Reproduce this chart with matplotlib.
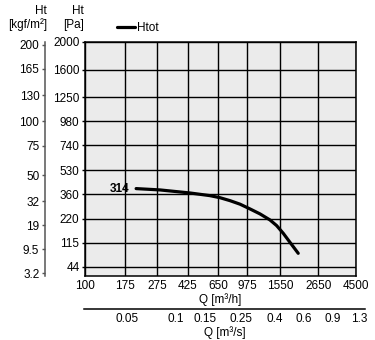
import numpy as np
import matplotlib.pyplot as plt
from matplotlib.ticker import NullLocator

plt.rcParams['font.family'] = ['Liberation Sans', 'DejaVu Sans']
plt.rcParams['font.size'] = 8.5

# fan curve: total pressure against air flow
q_m3h = [205, 287, 437, 578, 666, 766, 882, 1014, 1167, 1343, 1475, 1619, 1778, 1998]
htot_pa = [396, 387, 367, 350, 337, 319, 298, 271, 244, 213, 186, 152, 117, 80]
model = '314'

q_ticks = [100, 175, 275, 425, 650, 975, 1550, 2650, 4500]
qs_ticks = [0.05, 0.1, 0.15, 0.25, 0.4, 0.6, 0.9, 1.3]
pa_ticks = [44, 115, 220, 360, 530, 740, 980, 1250, 1600, 2000]
kgf_ticks = [3.2, 9.5, 19, 32, 50, 75, 100, 130, 165, 200]

PA_PER_KGF = 9.81
P_MIN, P_MAX = 26, 2000

fig = plt.figure(figsize=(3.75, 3.4), dpi=100)
ax = fig.add_axes([0.2267, 0.1882, 0.7227, 0.6883])
ax.set_facecolor('#ebebeb')
ax.set_xscale('log')
ax.set_yscale('function', functions=(np.sqrt, np.square))
ax.set_xlim(100, 4500)
ax.set_ylim(P_MIN, P_MAX)

ax.plot(q_m3h, htot_pa, color='black', lw=2.3, solid_capstyle='round', label='Htot')
ax.annotate(model, (q_m3h[0], htot_pa[0]), xytext=(-5, 0), textcoords='offset points',
            ha='right', va='center', fontweight='bold')

ax.set_xticks(q_ticks, labels=[str(v) for v in q_ticks])
ax.xaxis.set_minor_locator(NullLocator())
ax.set_yticks(pa_ticks, labels=[str(v) for v in pa_ticks])
ax.yaxis.set_minor_locator(NullLocator())
ax.tick_params(axis='x', length=0, pad=3)
ax.tick_params(axis='y', length=2, width=1, pad=2)
ax.grid(True, color='black', lw=1.0)
for s in ax.spines.values():
    s.set_linewidth(1.1)
ax.set_xlabel('Q [m³/h]', labelpad=1)

# flow in m3/s: a bare axis below, a bit wider than the plot
sax = fig.add_axes([0.224, 0.0912, 0.749, 0.0])
sax.set_xscale('log')
sax.set_xlim(98.6 / 3600, 5097 / 3600)
sax.set_yticks([])
for side in ['left', 'right', 'top']:
    sax.spines[side].set_visible(False)
sax.spines['bottom'].set_linewidth(1.1)
sax.patch.set_visible(False)
sax.set_xticks(qs_ticks, labels=[f'{v:g}' for v in qs_ticks])
sax.xaxis.set_minor_locator(NullLocator())
sax.tick_params(length=0, pad=3)
sax.set_xlabel('Q [m³/s]', labelpad=1)

# pressure in kgf/m2 on an offset left spine
kax = ax.twinx()
kax.set_yscale('function', functions=(np.sqrt, np.square))
kax.set_ylim(P_MIN / PA_PER_KGF, P_MAX / PA_PER_KGF)
kax.yaxis.set_ticks_position('left')
kax.spines['left'].set_position(('axes', -0.148))
kax.spines['left'].set_visible(True)
kax.spines['left'].set_color('#555555')
kax.spines['left'].set_linewidth(1.1)
for side in ['right', 'top', 'bottom']:
    kax.spines[side].set_visible(False)
kax.set_yticks(kgf_ticks, labels=[f'{v:g}' for v in kgf_ticks])
kax.yaxis.set_minor_locator(NullLocator())
kax.tick_params(axis='y', length=2, width=1, pad=2, color='#555555')

fig.text(47 / 375, 1 - 11 / 340, 'Ht', ha='right', va='center')
fig.text(47 / 375, 1 - 25 / 340, '[kgf/m²]', ha='right', va='center')
fig.text(84 / 375, 1 - 11 / 340, 'Ht', ha='right', va='center')
fig.text(84 / 375, 1 - 25 / 340, '[Pa]', ha='right', va='center')

ax.legend(loc='center left', bbox_to_anchor=(117 / 375, 1 - 28 / 340),
          bbox_transform=fig.transFigure, frameon=False, borderpad=0,
          borderaxespad=0, handlelength=1.5, handletextpad=0.2)

fig.savefig('out.png', dpi=100)
